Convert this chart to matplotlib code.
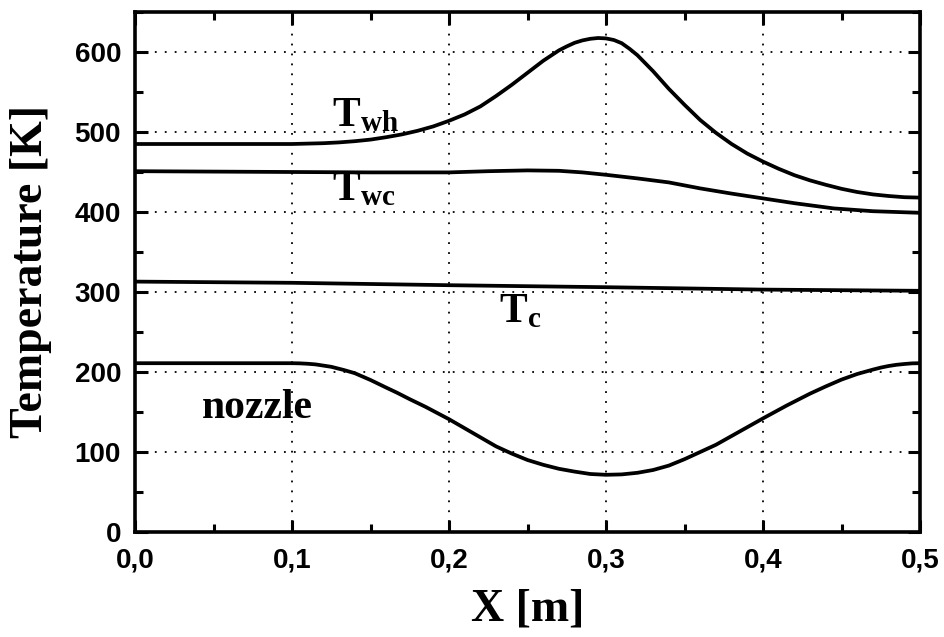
import matplotlib
matplotlib.use("Agg")
import matplotlib.pyplot as plt
from matplotlib.ticker import MultipleLocator, FuncFormatter

# ---- data ----
x_wh = [0.0, 0.05, 0.10, 0.11, 0.12, 0.13, 0.14, 0.15, 0.16, 0.17, 0.18, 0.19,
        0.20, 0.21, 0.22, 0.23, 0.24, 0.25, 0.26, 0.27, 0.275, 0.28, 0.285,
        0.29, 0.295, 0.30, 0.305, 0.31, 0.315, 0.32, 0.33, 0.34, 0.35, 0.36,
        0.37, 0.38, 0.39, 0.40, 0.41, 0.42, 0.43, 0.44, 0.45, 0.46, 0.47,
        0.48, 0.49, 0.50]
T_wh = [485, 485, 485, 485.5, 486, 487, 488.5, 490.5, 493.5, 497, 501.5, 507,
        514, 522, 532, 545, 559, 574, 589, 602, 607, 611.5, 614.5,
        616.5, 617.5, 617, 615, 611, 604, 596, 576, 554, 534, 515,
        499, 485, 473, 463, 454, 446, 439.5, 434, 429, 425, 422,
        420, 418.5, 418]

x_wc = [0.0, 0.05, 0.10, 0.15, 0.20, 0.225, 0.25, 0.27, 0.285, 0.30, 0.32,
        0.34, 0.36, 0.38, 0.40, 0.42, 0.445, 0.47, 0.50]
T_wc = [451, 450.5, 450, 449.5, 449.5, 451, 452, 451.5, 449.5, 446.5, 442,
        437, 429.5, 423, 417, 411, 404.5, 401, 399]

x_c = [0.0, 0.1, 0.2, 0.3, 0.4, 0.5]
T_c = [313, 311.5, 308.5, 306, 303, 301.5]

x_n = [0.0, 0.05, 0.10, 0.105, 0.11, 0.115, 0.12, 0.125, 0.133, 0.14, 0.15,
       0.16, 0.167, 0.175, 0.185, 0.20, 0.215, 0.23, 0.24, 0.25, 0.26, 0.27,
       0.28, 0.29, 0.30, 0.31, 0.32, 0.33, 0.34, 0.35, 0.36, 0.37, 0.38,
       0.39, 0.40, 0.415, 0.43, 0.44, 0.45, 0.46, 0.47, 0.475, 0.48, 0.485,
       0.49, 0.495, 0.50]
T_n = [211, 211, 211, 210.8, 210.3, 209.5, 208, 206.5, 202.5, 198.5, 190,
       180.5, 174, 166, 156.5, 141, 124, 107, 98, 90, 84, 79,
       75.5, 72.5, 71.5, 72, 74, 77.5, 83, 91, 100, 109, 120,
       131, 142, 158, 173, 182, 190.5, 197.5, 203, 205.5, 207.5, 209,
       210, 210.8, 211]

x_ticks = [0.0, 0.1, 0.2, 0.3, 0.4, 0.5]
y_ticks = [0, 100, 200, 300, 400, 500, 600]

# ---- style ----
plt.rcParams['font.family'] = ['Liberation Sans', 'DejaVu Sans']
plt.rcParams['font.weight'] = 'bold'
plt.rcParams['mathtext.fontset'] = 'custom'
plt.rcParams['mathtext.bf'] = 'Liberation Serif:bold'
plt.rcParams['mathtext.rm'] = 'Liberation Serif:bold'

fig = plt.figure(figsize=(9.44, 6.37), dpi=100)
ax = fig.add_axes([135/944, 1-532/637, (920-135)/944, (532-12)/637])

lw = 2.7
for xs, ys in [(x_wh, T_wh), (x_wc, T_wc), (x_c, T_c), (x_n, T_n)]:
    ax.plot(xs, ys, color='black', lw=lw, solid_capstyle='butt',
            solid_joinstyle='round', zorder=3)

ax.set_xlim(0, 0.5)
ax.set_ylim(0, 650)
ax.set_xticks(x_ticks)
ax.set_yticks(y_ticks)
ax.xaxis.set_minor_locator(MultipleLocator(0.05))
ax.yaxis.set_minor_locator(MultipleLocator(50))
ax.xaxis.set_major_formatter(FuncFormatter(lambda v, p: f"{v:.1f}".replace('.', ',')))

ax.grid(True, which='major', color='black', linestyle=(0, (1, 4.5)), lw=1.3)
ax.tick_params(which='both', direction='in', top=True, right=True, width=2.2,
               labelsize=20)
ax.tick_params(which='major', length=9)
ax.tick_params(axis='x', which='major', pad=11)
ax.tick_params(axis='y', which='major', pad=10)
ax.tick_params(which='minor', length=6)
for s in ax.spines.values():
    s.set_linewidth(2.6)

ax.set_xlabel('X [m]', fontfamily='Liberation Serif', fontweight='bold',
              fontsize=33, labelpad=11)
ax.set_ylabel('Temperature [K]', fontfamily='Liberation Serif', fontweight='bold',
              fontsize=33, labelpad=16)

txt = dict(color='black', fontsize=30)
ax.text(0.1255, 507, r'$\mathbf{T_{wh}}$', **txt)
ax.text(0.1255, 415, r'$\mathbf{T_{wc}}$', **txt)
ax.text(0.232, 262, r'$\mathbf{T_{c}}$', **txt)
ax.text(0.0425, 143, 'nozzle', fontfamily='Liberation Serif', fontweight='bold',
        fontsize=30)

fig.savefig('out.png', dpi=100)
